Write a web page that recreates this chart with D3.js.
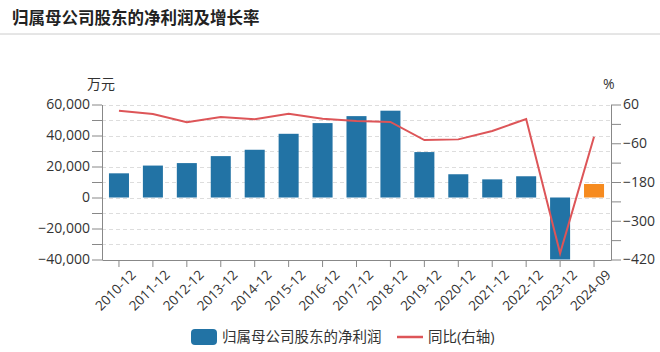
<!DOCTYPE html>
<html>
<head>
<meta charset="utf-8">
<script src="https://cdn.jsdelivr.net/npm/d3@7"></script>
<style>
	body { margin: 0; background: #fff; }
	svg text { font-family: "Open Sans", "Noto Sans CJK SC", sans-serif; }
</style>
</head>
<body>
<svg id="chart" width="660" height="352"></svg>
<script>
const categories = ["2010-12","2011-12","2012-12","2013-12","2014-12","2015-12","2016-12",
	"2017-12","2018-12","2019-12","2020-12","2021-12","2022-12","2023-12","2024-09"];
// 归属母公司股东的净利润 (万元)
const profit = [15600, 20600, 22200, 26700, 30800, 41100, 48000, 52500, 56000, 29300, 15000, 11700, 13700, -41000, 8700];
// 同比 (%)
const growth = [40.8, 30.6, 5, 21.3, 14, 31.6, 16, 9, 6, -50, -48, -22, 15, -401, -40];
const leftTicks = [60000, 40000, 20000, 0, -20000, -40000];
const rightTicks = [60, -60, -180, -300, -420];

const svg = d3.select("#chart");
const plotL = 102, plotR = 611, plotT = 104.5, plotB = 259.5;

const x = d3.scaleBand().domain(categories).range([plotL, plotR]).paddingInner(0.41).paddingOuter(0.205);
const yL = d3.scaleLinear().domain([-40000, 60000]).range([plotB, plotT]);
const yR = d3.scaleLinear().domain([-420, 60]).range([plotB, plotT]);

// title
svg.append("text").attr("x", 12).attr("y", 24)
	.attr("font-size", 16.5).attr("font-weight", "bold").attr("fill", "#222")
	.style("font-family", "'Noto Sans CJK SC', sans-serif")
	.text("归属母公司股东的净利润及增长率");
svg.append("line").attr("x1", 0).attr("x2", 660).attr("y1", 34).attr("y2", 34)
	.attr("stroke", "#ccc").attr("stroke-width", 1);

// grid
const gridVals = d3.range(-40000, 60001, 10000);
svg.append("g").selectAll("line").data(gridVals).enter().append("line")
	.attr("x1", plotL).attr("x2", plotR)
	.attr("y1", (d) => Math.round(yL(d)) + 0.5).attr("y2", (d) => Math.round(yL(d)) + 0.5)
	.attr("stroke", "#ddd").attr("stroke-dasharray", "4,3");

// bars
svg.append("clipPath").attr("id", "clip").append("rect")
	.attr("x", plotL).attr("y", plotT).attr("width", plotR - plotL).attr("height", plotB - plotT);
svg.append("g").attr("clip-path", "url(#clip)")
	.selectAll("rect").data(profit).enter().append("rect")
	.attr("x", (d, i) => x(categories[i]))
	.attr("width", x.bandwidth())
	.attr("y", (d) => yL(Math.max(0, d)))
	.attr("height", (d) => Math.abs(yL(d) - yL(0)))
	.attr("fill", (d, i) => i === categories.length - 1 ? "#f68b1f" : "#2273a5");

// line
const line = d3.line()
	.x((d, i) => x(categories[i]) + x.bandwidth() / 2)
	.y((d) => yR(d));
svg.append("path").datum(growth)
	.attr("d", line).attr("fill", "none")
	.attr("stroke", "#dd5558").attr("stroke-width", 2);

// axes
function styleAxis(g) {
	g.select(".domain").attr("stroke", "#888");
	g.selectAll(".tick line").attr("stroke", "#888");
	g.selectAll(".tick text").attr("fill", "#333").attr("font-size", 14);
}
svg.append("g").attr("transform", `translate(${plotL},0)`)
	.call(d3.axisLeft(yL).tickValues(leftTicks).tickSize(10).tickSizeOuter(0).tickPadding(2)
		.tickFormat(d3.format(",")))
	.call(styleAxis);
svg.append("g").attr("transform", `translate(${plotL},0)`)
	.call(d3.axisLeft(yL).tickValues(d3.range(-30000, 60000, 20000)).tickSize(10).tickSizeOuter(0).tickFormat(""))
	.call(styleAxis);

svg.append("g").attr("transform", `translate(${plotR},0)`)
	.call(d3.axisRight(yR).tickValues(rightTicks).tickSize(10).tickSizeOuter(0).tickPadding(2))
	.call(styleAxis);
svg.append("g").attr("transform", `translate(${plotR},0)`)
	.call(d3.axisRight(yR).tickValues(d3.range(-360, 60, 120)).tickSize(10).tickSizeOuter(0).tickFormat(""))
	.call(styleAxis);

const xAxis = svg.append("g").attr("transform", `translate(0,${plotB + 0.5})`)
	.call(d3.axisBottom(x).tickSize(7).tickSizeOuter(0))
	.call(styleAxis);
xAxis.selectAll(".tick text")
	.attr("font-size", 13.5)
	.attr("text-anchor", "end")
	.attr("transform", "translate(5,3) rotate(-45)")
	.attr("dy", "0.6em");

// unit labels
svg.append("text").attr("x", 115).attr("y", 89).attr("text-anchor", "end")
	.attr("font-size", 14).attr("fill", "#333").text("万元");
svg.append("text").attr("x", 603).attr("y", 89)
	.attr("font-size", 14).attr("fill", "#333").text("%");

// legend
const lg = svg.append("g");
lg.append("rect").attr("x", 191).attr("y", 329).attr("width", 26).attr("height", 16)
	.attr("rx", 4).attr("fill", "#2273a5");
lg.append("text").attr("x", 222).attr("y", 342).attr("font-size", 14.5).attr("fill", "#333")
	.text("归属母公司股东的净利润");
lg.append("line").attr("x1", 397).attr("x2", 423).attr("y1", 337).attr("y2", 337)
	.attr("stroke", "#dd5558").attr("stroke-width", 2.5);
lg.append("text").attr("x", 428).attr("y", 342).attr("font-size", 14.5).attr("fill", "#333")
	.text("同比(右轴)");
</script>
</body>
</html>
